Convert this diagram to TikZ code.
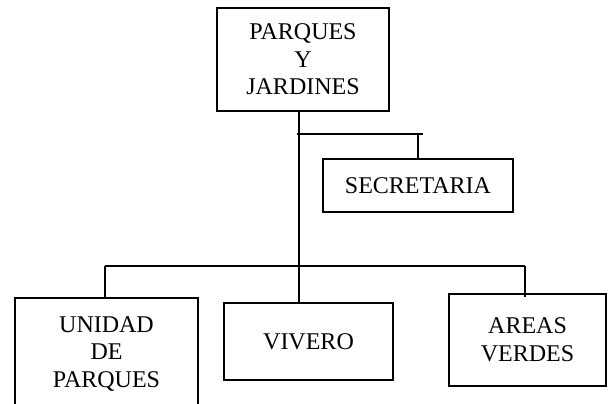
\documentclass[tikz,border=0pt]{standalone}
\usepackage{fontspec}
\setmainfont{Liberation Serif}
\usetikzlibrary{positioning}

\begin{document}
\begin{tikzpicture}[x=0.5pt, y=-0.5pt,
        unit/.style={draw, line width=0.9pt, align=center, inner sep=0pt,
            font=\fontsize{12}{13.8}\selectfont},
        link/.style={line width=0.9pt}]
        \useasboundingbox (0,0) rectangle (613,403);

        % boxes
        \node[unit, minimum width=86pt, minimum height=51.5pt] (dir) at (303,59.5) {PARQUES\\Y\\JARDINES};
        \node[unit, minimum width=95pt, minimum height=26.5pt] (sec) at (418,185.5) {SECRETARIA};
        \node[unit, minimum width=91.5pt, minimum height=56pt] (uni) at (106.5,354) {UNIDAD\\DE\\PARQUES};
        \node[unit, minimum width=84.5pt, minimum height=38.5pt] (viv) at (308.5,341.5) {VIVERO};
        \node[unit, minimum width=78.5pt, minimum height=46pt] (are) at (527.5,340) {AREAS\\VERDES};

        % bars
        \coordinate (sbl) at (297,134);
        \coordinate (sbr) at (423,134);
        \coordinate (hbl) at (105,266);
        \coordinate (hbr) at (525,266);
        \coordinate (trunk) at (299,266);

        \draw[link] (dir.south -| trunk) -- (viv.north -| trunk);
        \draw[link] (sbl) -- (sbr);
        \draw[link] (sec.north |- sbl) -- (sec.north);
        \draw[link] (hbl) -- (hbr);
        \draw[link] (hbl) -- (uni.north -| hbl);
        \draw[link] (hbr) -- ([yshift=-2pt]are.north -| hbr);
    \end{tikzpicture}
\end{document}
